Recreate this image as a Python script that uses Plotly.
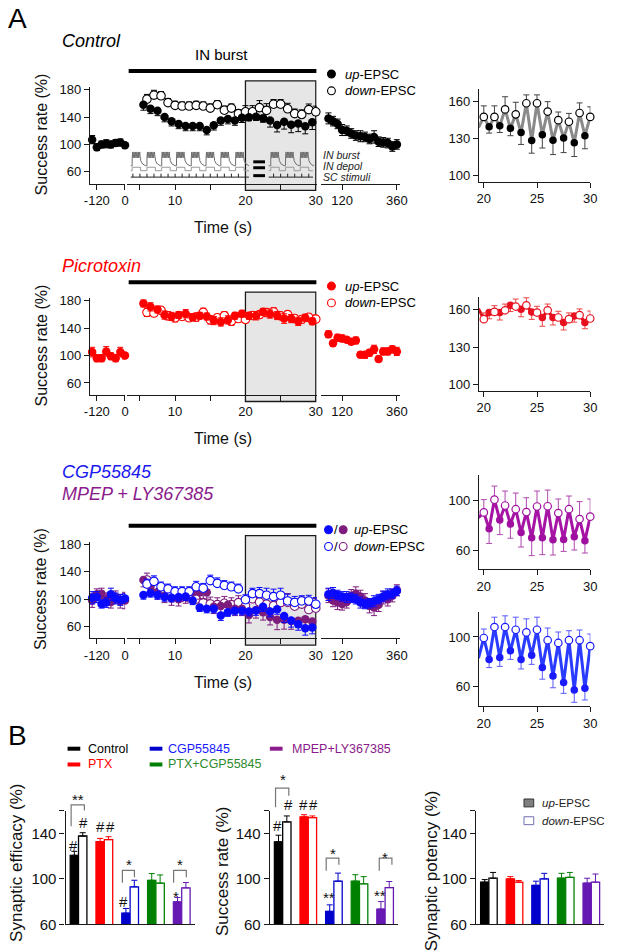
import plotly.graph_objects as go

W, H = 617, 952
FONT = "Liberation Sans, Arial, Helvetica, sans-serif"

# ---------------- Panel A data ----------------
t_pre = [-140, -120, -100, -80, -60, -40, -20, 0]
t_up = [5.5, 6.5, 7.5, 8.5, 9.5, 10.5, 11.5, 12.5, 13.5, 14.5, 15.5, 16.5, 17.5,
        18.5, 19.5, 20.5, 21.5, 22.5, 23.5, 24.5, 25.5, 26.5, 27.5, 28.5, 29.5]
t_down = [6, 7, 8, 9, 10, 11, 12, 13, 14, 15, 16, 17, 18, 19, 20, 21, 22, 23, 24,
          25, 26, 27, 28, 29, 30]
t_post = [60, 80, 100, 120, 140, 160, 180, 200, 220, 240, 260, 280, 300, 320, 340, 360]

# Control
ctrl_pre = [107, 96, 100, 101, 100, 102, 103, 99]
ctrl_pre_err = [6, 5, 5, 6, 5, 5, 5, 5]
ctrl_up = [158, 152, 149, 140, 134, 130, 127, 127, 127, 121, 128, 135, 137, 135, 139,
           139.7, 140.5, 138.4, 135, 128.4, 133.2, 128.7, 130.5, 126.6, 132.4]
ctrl_up_err = [8, 7, 7, 7, 7, 7, 7, 7, 7, 7, 7, 7, 7, 7, 7,
               5.2, 5.5, 6, 9.7, 10.2, 10.8, 11.6, 11.8, 11.1, 10.6]
ctrl_down = [166, 172, 171, 161, 157, 156, 156, 157, 156, 153, 158, 150, 153, 145,
             147.6, 147.6, 153.7, 149.7, 158.7, 158.7, 152, 145, 143.7, 150.8, 147.6]
ctrl_down_err = [7, 7, 6, 6, 6, 6, 6, 6, 6, 6, 6, 6, 6, 6,
                 9, 9, 10.3, 9.8, 6.8, 6.8, 8, 6.6, 6.8, 8.2, 8.2]
ctrl_post = [138, 134, 130, 121, 120, 116, 113, 112, 111, 108, 111, 104, 103, 102, 97, 100]
ctrl_post_err = [8, 7, 7, 8, 7, 7, 7, 8, 7, 7, 9, 7, 7, 7, 7, 7]

# Picrotoxin
picro_pre = [105, 96, 96, 106, 99, 96, 105, 100]
picro_pre_err = [7, 5, 5, 7, 5, 5, 7, 5]
picro_up = [176, 171, 167, 159, 157, 159, 161, 156, 158, 157, 151, 149, 152, 158, 161,
            157.9, 157.9, 163.7, 160.5, 158.4, 153.9, 153.9, 149.9, 155.2, 149.9]
picro_up_err = [5, 6, 5, 6, 6, 5, 6, 5, 5, 5, 6, 6, 6, 5, 5,
                5, 6, 5, 6, 6, 7, 6, 6, 5, 5]
picro_down = [163, 162, 166, 158, 155, 157, 155, 156, 163, 152, 155, 158, 150, 154,
              152.6, 158.4, 159.7, 162.7, 163.7, 157.9, 159.7, 153.9, 152.6, 155.8, 153.1]
picro_down_err = [6, 5, 5, 6, 6, 5, 5, 6, 6, 6, 5, 6, 6, 5,
                  5, 5, 5, 6, 6, 5, 5, 5, 5, 5, 6]
picro_post = [131, 118, 126, 125, 123, 120, 122, 101, 101, 104, 109, 95, 106, 106, 109, 106]
picro_post_err = [5, 4, 5, 5, 4, 4, 5, 4, 5, 5, 6, 4, 5, 5, 5, 6]

# CGP55845 (blue)
cgp_pre = [102, 103, 93, 95, 107, 101, 99, 101]
cgp_pre_err = [9, 8, 6, 7, 9, 8, 8, 7]
cgp_up = [106, 109, 106, 103, 102, 103, 104, 98, 88, 86, 86, 76, 81, 83, 83,
          82, 83.6, 88.9, 82, 85.4, 75.4, 68.7, 63.4, 57.4, 58.7]
cgp_up_err = [6, 6, 6, 6, 6, 6, 6, 6, 6, 6, 6, 7, 6, 6, 6,
              6.6, 7.2, 6.9, 7.7, 7.4, 9.3, 9.5, 8.7, 9.9, 9.3]
cgp_down = [122, 126, 118, 115, 111, 111, 111, 118, 116, 127, 123, 120, 118, 115,
            99.2, 108, 108, 105.8, 103.7, 105.8, 97.4, 95.2, 97.4, 97.4, 92.6]
cgp_down_err = [7, 8, 7, 7, 7, 7, 7, 8, 7, 8, 8, 7, 7, 7,
                7.2, 7.9, 9, 10.1, 10.9, 10.1, 9.8, 8.8, 7.6, 8.2, 9.8]
cgp_post = [107, 109, 106, 104, 103, 102, 100, 95, 93, 94, 97, 100, 104, 107, 108, 112]
cgp_post_err = [9, 8, 7, 7, 8, 7, 7, 8, 7, 7, 8, 7, 8, 8, 7, 7]

# MPEP + LY367385 (purple)
mpep_pre = [98, 107, 108, 100, 96, 103, 97, 98]
mpep_pre_err = [10, 8, 8, 9, 9, 9, 10, 12]
mpep_up = [128, 118, 110, 105, 101, 100, 104, 110, 110, 110, 89, 90, 92, 86, 86,
           77, 84.1, 80.9, 74, 69.8, 69.8, 68.2, 68.5, 70.6, 67.4]
mpep_up_err = [10, 10, 10, 10, 10, 10, 10, 10, 10, 10, 10, 10, 10, 10, 10,
               11.7, 11.7, 11.4, 11.6, 14.3, 13.5, 12.2, 9.6, 10.6, 9.8]
mpep_down = [128, 120, 112, 108, 105, 103, 102, 100, 95, 93, 92, 94, 92, 95,
             90.2, 100.5, 95.8, 92.8, 90.5, 95, 95.2, 89.7, 92.8, 84.9, 86.8]
mpep_down_err = [10, 10, 10, 10, 10, 10, 10, 10, 10, 10, 10, 10, 10, 10,
                 10.3, 10.9, 11.6, 13, 11.5, 12.4, 13, 11.3, 10.6, 14, 14.2]
mpep_post = [105, 98, 95, 93, 96, 105, 108, 104, 98, 90, 88, 92, 102, 100, 105, 113]
mpep_post_err = [10, 9, 10, 9, 9, 9, 10, 9, 10, 10, 12, 10, 9, 10, 9, 8]

# Inset schematic timing (control panel)
burst_onsets_a = [3.9, 6.0, 8.1, 10.2, 12.3, 14.4, 16.5, 18.6]
burst_onsets_b = [23.6, 25.7, 27.8]
sc_stim_a = [4, 5, 6, 7, 8, 9, 10, 11, 12, 13, 14, 15, 16, 17, 18, 19, 20]
sc_stim_b = [24, 25, 26, 27, 28, 29]

# ---------------- Panel B data ----------------
groups = ["Control", "PTX", "CGP55845", "PTX+CGP55845", "MPEP+LY367385"]
group_colors = ["#000000", "#ff0000", "#0000cc", "#008000", "#6619b3"]
legend_text_colors = ["#000000", "#ff0000", "#1a1aff", "#2e8b2e", "#8b1a8b"]
eff_up = [120.8, 132.8, 69.8, 98.8, 79.8]
eff_up_err = [3.5, 2.9, 4.1, 5.9, 3.8]
eff_down = [137.8, 134.6, 93, 96.2, 92.1]
eff_down_err = [2.9, 2.6, 5.8, 7.3, 4.7]
succ_up = [132.7, 154.6, 71.4, 98, 73.4]
succ_up_err = [5.8, 2, 5.7, 5.7, 6.6]
succ_down = [150.2, 154, 98, 95.7, 92.3]
succ_down_err = [5.3, 1.5, 7.1, 6.3, 5.4]
pot_up = [97.1, 100, 94.3, 100.6, 96.3]
pot_up_err = [2.3, 2, 3.7, 4.3, 4.3]
pot_down = [100.6, 97.1, 100, 101.4, 97.1]
pot_down_err = [5.1, 1.5, 4.9, 4.3, 7.2]

# ---------------- helpers ----------------
fig = go.Figure()
axes = {}
shapes = []
annotations = []


def PX(p):
    return p / W


def PY(p):
    return 1 - p / H


def names(n):
    s = "" if n == 1 else str(n)
    return "xaxis" + s, "yaxis" + s, "x" + s, "y" + s


def base_ax(size=13):
    return dict(showline=True, linecolor="#1a1a1a", linewidth=1.3, ticks="outside",
                ticklen=5, tickwidth=1.2, tickcolor="#1a1a1a", showgrid=False,
                zeroline=False, fixedrange=True,
                tickfont=dict(size=size, color="#111", family=FONT))


def make_axes(n, xdom, ydom, xrange, yrange, xt=None, yt=None, yvisible=True,
              size=13, xcat=False):
    xa, ya, xr, yr = names(n)
    xd = base_ax(size)
    xd.update(domain=[PX(xdom[0]), PX(xdom[1])], range=xrange, anchor=yr)
    if xt is not None:
        xd.update(tickmode="array", tickvals=xt[0], ticktext=xt[1])
    if xcat:
        xd.update(ticks="", showticklabels=False)
    yd = base_ax(size)
    yd.update(domain=[PY(ydom[1]), PY(ydom[0])], range=yrange, anchor=xr)
    if yt is not None:
        yd.update(tickmode="array", tickvals=yt[0], ticktext=yt[1])
    if not yvisible:
        yd.update(visible=False)
    axes[xa] = xd
    axes[ya] = yd
    return xr, yr


def ann(text, x, y, size=13, color="#111", xanchor="center", yanchor="middle", angle=0):
    annotations.append(dict(text=text, x=PX(x), y=PY(y), xref="paper", yref="paper",
                            showarrow=False, xanchor=xanchor, yanchor=yanchor,
                            textangle=angle,
                            font=dict(size=size, color=color, family=FONT)))


def err(arr, up=True, color="#000"):
    zeros = [0] * len(arr)
    return dict(type="data", symmetric=False, array=arr if up else zeros,
                arrayminus=zeros if up else arr, color=color, thickness=1, width=3)


def markers(x, y, xr, yr, color, filled=True, error=None, size=8.5):
    m = dict(size=size, color=color if filled else "white",
             line=dict(color=color, width=0 if filled else 1.1))
    fig.add_trace(go.Scatter(x=x, y=y, mode="markers", marker=m, error_y=error,
                             xaxis=xr, yaxis=yr, cliponaxis=False, hoverinfo="skip"))


def main_axes(off, n1, n2, n3):
    yd = (83 + off, 181 + off)
    yr = [43, 184]
    a1 = make_axes(n1, (86, 122), yd, [-149, 1], yr, xt=([-120, 0], ["-120", "0"]),
                   yt=([60, 100, 140, 180], ["60", "100", "140", "180"]))
    a2 = make_axes(n2, (124, 318), yd, [3.19, 30.14], yr,
                   xt=([5, 10, 15, 20, 25, 30], ["", "10", "", "20", "", "30"]),
                   yvisible=False)
    a3 = make_axes(n3, (322, 403), yd, [26, 373], yr,
                   xt=([120, 360], ["120", "360"]), yvisible=False)
    # grey analysis window 20-30 s
    shapes.append(dict(type="rect", xref=a2[0], yref="paper", x0=20, x1=30,
                       y0=PY(188 + off), y1=PY(77 + off), fillcolor="#e6e6e6",
                       line=dict(color="#1a1a1a", width=1.3), layer="below"))
    # IN burst bar
    shapes.append(dict(type="line", xref=a2[0], yref="paper", x0=3.4, x1=30.1,
                       y0=PY(67 + off), y1=PY(67 + off),
                       line=dict(color="#000", width=4)))
    ann("Success rate (%)", 36, 131 + off, size=16, angle=-90)
    ann("Time (s)", 222, 226 + off, size=16)
    return a1, a2, a3


def main_series(a1, a2, a3, color, pre, pre_e, up, up_e, down, down_e, post, post_e,
                sym=False):
    markers(t_pre, pre, *a1, color,
            error=dict(type="data", array=pre_e, color=color, thickness=1, width=3))
    if sym:
        eu = dict(type="data", array=up_e, color=color, thickness=1, width=3)
        ed = dict(type="data", array=down_e, color=color, thickness=1, width=3)
    else:
        eu = err(up_e, up=False, color=color)
        ed = err(down_e, up=True, color=color)
    markers(t_down, down, *a2, color, filled=False, error=ed)
    markers(t_up, up, *a2, color, error=eu)
    markers(t_post, post, *a3, color,
            error=dict(type="data", array=post_e, color=color, thickness=1, width=3))


def right_panel(n, ydom, yrange, ytv, line_color, dot_color, err_color,
                up, up_e, down, down_e):
    xr, yr = make_axes(n, (484, 598), ydom, [19.55, 30.02], yrange,
                       xt=([20, 25, 30], ["20", "25", "30"]),
                       yt=(ytv, [str(v) for v in ytv]))
    pts = [(t, v) for t, v in zip(t_up, up) if t >= 19.5]
    pts += [(t, v) for t, v in zip(t_down, down) if t >= 20]
    pts.sort()
    fig.add_trace(go.Scatter(x=[p[0] for p in pts], y=[p[1] for p in pts], mode="lines",
                             line=dict(color=line_color, width=3), xaxis=xr, yaxis=yr,
                             hoverinfo="skip"))
    iu = [i for i, t in enumerate(t_up) if t >= 20]
    idn = [i for i, t in enumerate(t_down) if t >= 20]
    markers([t_up[i] for i in iu], [up[i] for i in iu], xr, yr, dot_color, size=7.5,
            error=err([up_e[i] for i in iu], up=False, color=err_color))
    fig.add_trace(go.Scatter(x=[t_down[i] for i in idn], y=[down[i] for i in idn],
                             mode="markers", xaxis=xr, yaxis=yr, cliponaxis=False,
                             marker=dict(size=7.5, color="white",
                                         line=dict(color=dot_color, width=1.2)),
                             error_y=err([down_e[i] for i in idn], up=True, color=err_color),
                             hoverinfo="skip"))


def legend_dot(cx, cy, color, filled=True, r=4):
    shapes.append(dict(type="circle", xref="paper", yref="paper",
                       x0=PX(cx - r), x1=PX(cx + r), y0=PY(cy + r), y1=PY(cy - r),
                       fillcolor=color if filled else "white",
                       line=dict(color=color, width=1.1)))


# ---------------- Panel A : Control ----------------
OFF = [0, 214, 461]
a = main_axes(OFF[0], 1, 2, 3)
main_series(*a, "#000000", ctrl_pre, ctrl_pre_err, ctrl_up, ctrl_up_err,
            ctrl_down, ctrl_down_err, ctrl_post, ctrl_post_err)
right_panel(4, (85, 179), [95.2, 170.4], [100, 130, 160], "#8a8a8a", "#000000", "#444",
            ctrl_up, ctrl_up_err, ctrl_down, ctrl_down_err)
ann("A", 0, 14, size=28, color="#000", xanchor="left")
ann("<i>Control</i>", 55, 37, size=18, color="#000", xanchor="left")
ann("IN burst", 220, 50, size=15, color="#000")
legend_dot(333, 70, "#000")
legend_dot(333, 87, "#000", filled=False)
ann("<i>up</i>-EPSC", 345, 70, size=13, color="#000", xanchor="left")
ann("<i>down</i>-EPSC", 345, 87, size=13, color="#000", xanchor="left")


# inset schematic (IN burst / IN depol / SC stimuli)
def pth(points):
    return "M " + " L ".join(f"{x:.3f},{y:.5f}" for x, y in points)


def burst_path(onsets, start, end, w=1.2):
    base, plat, top = PY(163), PY(155), PY(149)
    pts = [(start, base)]
    for t in onsets:
        pts += [(t, base), (t, plat)]
        for k in range(6):
            pts += [(t + w * (k + 0.35) / 6, top), (t + w * (k + 0.7) / 6, plat)]
        pts += [(t + w, plat), (t + w, PY(157.5)), (t + w + 0.25, PY(161)),
                (t + w + 0.7, base)]
    pts.append((end, base))
    return pth(pts)


def depol_path(onsets, start, end, w=1.2):
    base, upv = PY(168), PY(164.5)
    pts = [(start, base)]
    for t in onsets:
        pts += [(t, base), (t, upv), (t + w, upv), (t + w, base)]
    pts.append((end, base))
    return pth(pts)


def sc_path(stims, start, end):
    base, top = PY(174.5), PY(171)
    p = f"M {start:.3f},{base:.5f} L {end:.3f},{base:.5f}"
    for t in stims:
        p += f" M {t:.3f},{base:.5f} L {t:.3f},{top:.5f}"
    return p


for onsets, stims, s0, s1 in [(burst_onsets_a, sc_stim_a, 3.7, 20.5),
                              (burst_onsets_b, sc_stim_b, 23.3, 29.6)]:
    shapes.append(dict(type="path", xref="x2", yref="paper", path=burst_path(onsets, s0, s1),
                       line=dict(color="#6e6e6e", width=1)))
    shapes.append(dict(type="path", xref="x2", yref="paper", path=depol_path(onsets, s0, s1),
                       line=dict(color="#9a9a9a", width=1)))
    shapes.append(dict(type="path", xref="x2", yref="paper", path=sc_path(stims, s0, s1),
                       line=dict(color="#222", width=1)))
for yy in (159, 165, 173):
    shapes.append(dict(type="line", xref="paper", yref="paper", x0=PX(253), x1=PX(265),
                       y0=PY(yy), y1=PY(yy), line=dict(color="#000", width=3)))
ann("<i>IN burst</i>", 322, 152, size=10.5, color="#222", xanchor="left")
ann("<i>IN depol</i>", 322, 163, size=10.5, color="#222", xanchor="left")
ann("<i>SC stimuli</i>", 322, 174, size=10.5, color="#222", xanchor="left")

# ---------------- Panel A : Picrotoxin ----------------
a = main_axes(OFF[1], 5, 6, 7)
main_series(*a, "#ff0000", picro_pre, picro_pre_err, picro_up, picro_up_err,
            picro_down, picro_down_err, picro_post, picro_post_err, sym=True)
right_panel(8, (296, 391), [95.2, 170.4], [100, 130, 160], "#d9101c", "#e8101e", "#ee4444",
            picro_up, picro_up_err, picro_down, picro_down_err)
ann("<i>Picrotoxin</i>", 55, 265, size=18, color="#ff0000", xanchor="left")
legend_dot(333, 285, "#ff0000")
legend_dot(333, 302, "#ff0000", filled=False)
ann("<i>up</i>-EPSC", 345, 285, size=13, color="#000", xanchor="left")
ann("<i>down</i>-EPSC", 345, 302, size=13, color="#000", xanchor="left")

# ---------------- Panel A : CGP55845 / MPEP+LY367385 ----------------
a = main_axes(OFF[2], 9, 10, 11)
main_series(*a, "#7d1c7d", mpep_pre, mpep_pre_err, mpep_up, mpep_up_err,
            mpep_down, mpep_down_err, mpep_post, mpep_post_err)
main_series(*a, "#0a0aff", cgp_pre, cgp_pre_err, cgp_up, cgp_up_err,
            cgp_down, cgp_down_err, cgp_post, cgp_post_err)
right_panel(12, (476, 572), [44.6, 120.7], [60, 100], "#a614a6", "#a010a0", "#b048b0",
            mpep_up, mpep_up_err, mpep_down, mpep_down_err)
right_panel(13, (615, 711), [44.3, 120.4], [60, 100], "#2a3cff", "#1a1aff", "#5a5aff",
            cgp_up, cgp_up_err, cgp_down, cgp_down_err)
ann("<i>CGP55845</i>", 55, 473, size=18, color="#1a1aee", xanchor="left")
ann("<i>MPEP + LY367385</i>", 55, 496, size=18, color="#8b1a8b", xanchor="left")
legend_dot(330, 532, "#0a0aff")
legend_dot(345, 532, "#7d1c7d")
legend_dot(330, 549, "#0a0aff", filled=False)
legend_dot(345, 549, "#7d1c7d", filled=False)
ann("/", 338, 532, size=13, color="#000")
ann("/", 338, 549, size=13, color="#000")
ann("<i>up</i>-EPSC", 354, 532, size=13, color="#000", xanchor="left")
ann("<i>down</i>-EPSC", 354, 549, size=13, color="#000", xanchor="left")

# ---------------- Panel B ----------------
ann("B", 0, 741, size=28, color="#000", xanchor="left")
leg_pos = [(63, 754, 82), (63, 770, 82), (147, 754, 164), (147, 770, 164), (270, 754, 291)]
for (lx, ly, tx), g, c, tc in zip(leg_pos, groups, group_colors, legend_text_colors):
    shapes.append(dict(type="line", xref="paper", yref="paper", x0=PX(lx), x1=PX(lx + 13),
                       y0=PY(ly), y1=PY(ly),
                       line=dict(color=tc if g == "MPEP+LY367385" else c, width=4)))
    ann(g, tx, ly, size=12.5, color=tc, xanchor="left")

bar_sets = [
    (14, (61, 193), eff_up, eff_up_err, eff_down, eff_down_err, "Synaptic efficacy (%)", 10, 870),
    (15, (270, 401), succ_up, succ_up_err, succ_down, succ_down_err, "Success rate (%)", 221, 878),
    (16, (481, 612), pot_up, pot_up_err, pot_down, pot_down_err, "Synaptic potency (%)", 435, 878),
]
BW = 0.325
for n, xd, up, up_e, dn, dn_e, title, tx, ty in bar_sets:
    xr, yr = make_axes(n, xd, (817, 932), [-0.5, 4.5], [60, 160], xcat=True,
                       yt=([60, 100, 140, 160], ["60", "100", "140", ""]), size=15)
    for i, c in enumerate(group_colors):
        fig.add_trace(go.Bar(x=[i], y=[up[i]], width=BW, offset=-BW, xaxis=xr, yaxis=yr,
                             marker=dict(color=c, line=dict(color=c, width=1.2)),
                             error_y=err([up_e[i]], up=True, color=c), hoverinfo="skip"))
        fig.add_trace(go.Bar(x=[i], y=[dn[i]], width=BW, offset=0, xaxis=xr, yaxis=yr,
                             marker=dict(color="white", line=dict(color=c, width=1.3)),
                             error_y=err([dn_e[i]], up=True, color=c), hoverinfo="skip"))
    ann(title, tx, ty, size=17, color="#111", angle=-90)

# significance marks
sig = [("**", 74, 805), ("#", 69.3, 852), ("#", 79.3, 829), ("#", 96.7, 833), ("#", 107.3, 833),
       ("#", 120.7, 909), ("*", 125.7, 871), ("*", 174, 904), ("*", 178.3, 871),
       ("*", 283, 785), ("#", 278.3, 832), ("#", 289.3, 811), ("#", 304, 811), ("#", 315, 811),
       ("**", 330, 905), ("*", 334.3, 860), ("**", 382.7, 903), ("*", 388.3, 864)]
for s, x, y in sig:
    ann(s, x, y, size=15, color="#111")
brackets = [(66.7, 80, 811, 832.7, 816.7), (119, 131.7, 877.3, 890, 884.3),
            (171.7, 184.3, 877.3, 890, 884.3), (276, 289.3, 794, 813.3, 801.7),
            (327.7, 340.7, 865, 877.7, 871.7), (381.7, 395, 865, 877.7, 871.7)]
for x0, x1, yt, yl, yr_ in brackets:
    shapes.append(dict(type="path", xref="paper", yref="paper",
                       path=pth([(PX(x0), PY(yl)), (PX(x0), PY(yt)), (PX(x1), PY(yt)),
                                 (PX(x1), PY(yr_))]),
                       line=dict(color="#777", width=1.2)))

# chart-3 legend
shapes.append(dict(type="rect", xref="paper", yref="paper", x0=PX(530), x1=PX(540),
                   y0=PY(813), y1=PY(805), fillcolor="#7f7f7f", line=dict(color="#333", width=1)))
shapes.append(dict(type="rect", xref="paper", yref="paper", x0=PX(530), x1=PX(540),
                   y0=PY(831), y1=PY(823), fillcolor="white", line=dict(color="#7070b0", width=1)))
ann("<i>up</i>-EPSC", 546, 809, size=11.5, color="#222", xanchor="left")
ann("<i>down</i>-EPSC", 546, 827, size=11.5, color="#222", xanchor="left")

fig.update_layout(width=W, height=H, margin=dict(l=0, r=0, t=0, b=0),
                  paper_bgcolor="white", plot_bgcolor="rgba(0,0,0,0)",
                  showlegend=False, barmode="overlay", font=dict(family=FONT),
                  shapes=shapes, annotations=annotations, **axes)
fig.write_html("out.html", config={"displayModeBar": False},
               post_script="document.body.style.margin='0';document.body.style.overflow='hidden';")
